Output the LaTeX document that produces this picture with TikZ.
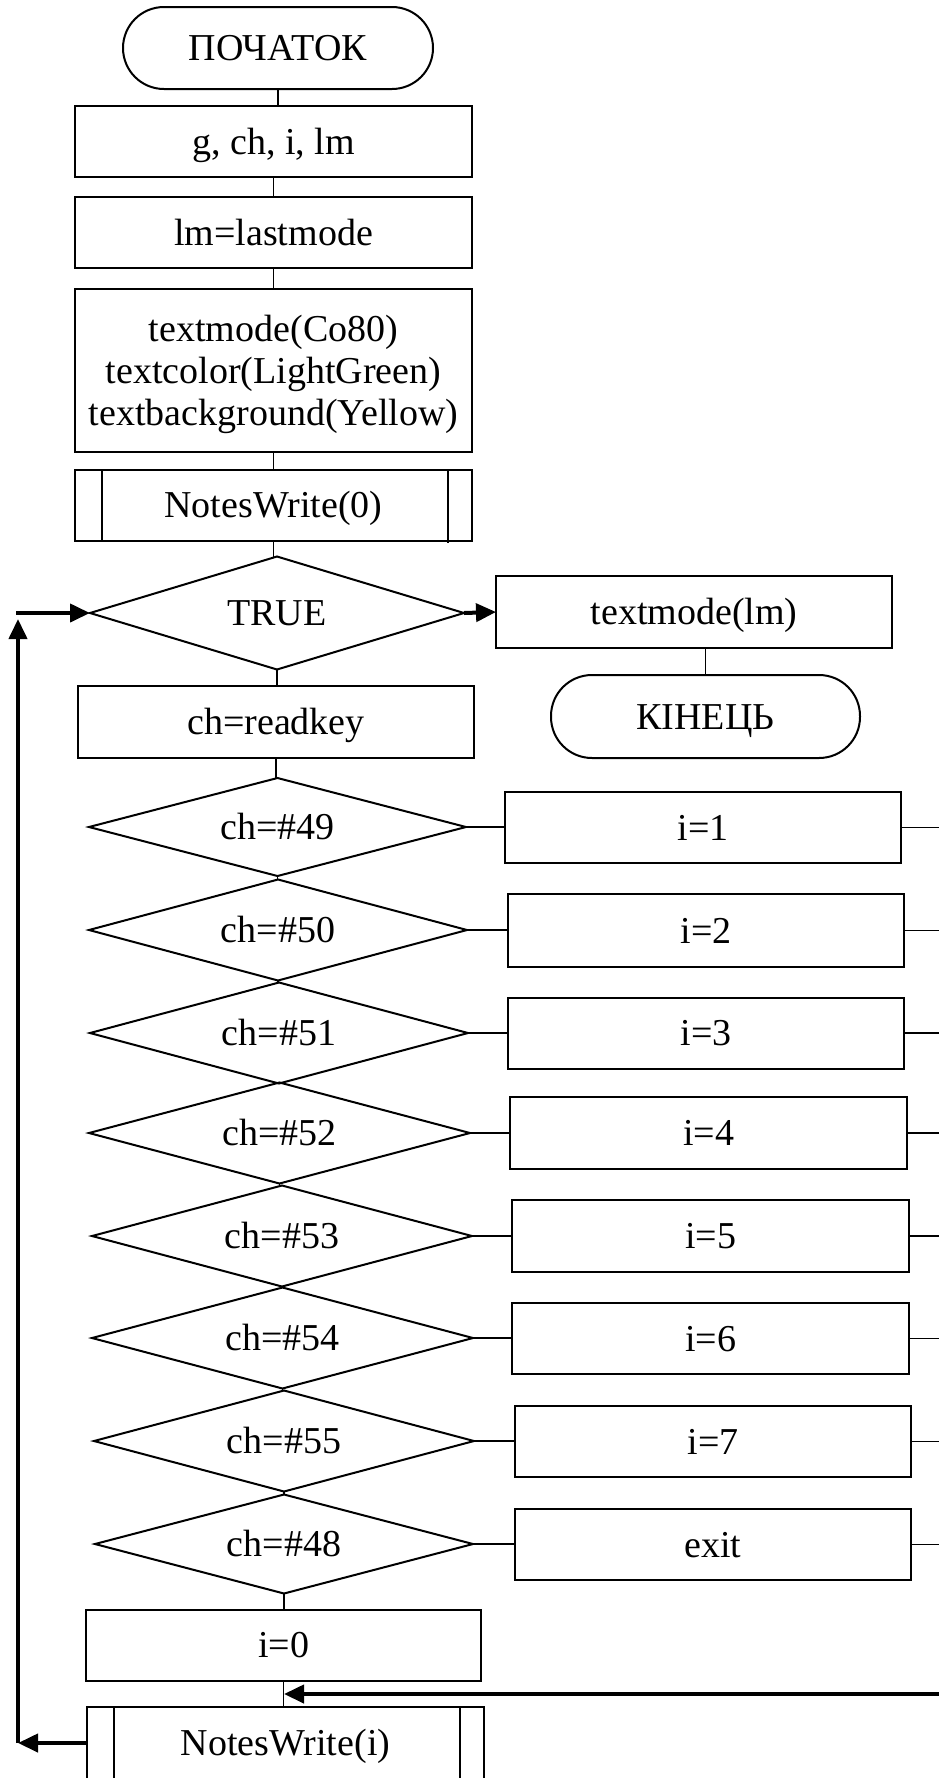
\documentclass[tikz,border=0pt]{standalone}
\usepackage{fontspec}
\setmainfont{Liberation Serif}
\usetikzlibrary{shapes.geometric,arrows.meta}

\begin{document}
\begin{tikzpicture}[x=1pt,y=-1pt,
  every node/.style={font=\fontsize{38pt}{36pt}\selectfont, inner sep=0pt, outer sep=0pt},
  oneline/.style={text height=27pt, text depth=2pt},
  box/.style={draw, rectangle, line width=2pt, minimum width=#1, minimum height=72pt, oneline},
  box/.default=396pt,
  term/.style={draw, rectangle, line width=2pt, rounded corners=41pt, minimum width=310pt, minimum height=82pt, oneline},
  dec/.style={draw, diamond, shape aspect=3.8, line width=2pt, minimum width=#1, minimum height=101pt, oneline},
  dec/.default=380pt,
  conn/.style={line width=1.8pt},
  flowline/.style={line width=4pt, -{Triangle[length=20pt,width=18pt]}},
]
\useasboundingbox (0,0) rectangle (939,1778);
\clip (0,0) rectangle (939,1778);
\fill[white] (0,0) rectangle (939,1778);

% main column
\node[term] (start) at (278,48) {ПОЧАТОК};
\node[box=397pt, minimum height=71pt] (decl) at (273.5,141.5) {g, ch, i, lm};
\node[box=397pt, minimum height=71pt] (savemode) at (273.5,232.5) {lm=lastmode};
\node[draw, rectangle, line width=2pt, minimum width=397pt, minimum height=163pt, align=center,
      font=\fontsize{38pt}{42pt}\selectfont] (init) at (273.5,370.5)
  {\rule{0pt}{33.5pt}textmode(Co80)\\textcolor(LightGreen)\\textbackground(Yellow)};
\node[box=397pt, minimum height=71pt] (nwzero) at (273.5,505) {NotesWrite(0)};
\draw[line width=2pt] ([xshift=27pt]nwzero.north west) -- ([xshift=27pt]nwzero.south west)
                      ([xshift=-24pt]nwzero.north east) -- ([xshift=-24pt,yshift=-2pt]nwzero.south east);

\node[dec=374pt, minimum height=113pt] (loop) at (277,613) {TRUE};
\node[box=396pt] (restore) at (694,612) {textmode(lm)};
\node[term, minimum width=309pt, minimum height=83pt] (finish) at (705.5,716.5) {КІНЕЦЬ};

\node[box=396pt] (readkey) at (276,722) {ch=readkey};

% key tests and assignments
\node[dec=377pt, minimum height=98pt] (d49) at (277.5,827) {ch=\#49};
\node[box=396pt, minimum height=71pt] (b1) at (703,827.5) {i=1};
\node[dec=378pt] (d50) at (278,930) {ch=\#50};
\node[box=396pt, minimum height=73pt] (b2) at (706,930.5) {i=2};
\node[dec=378pt] (d51) at (279,1033) {ch=\#51};
\node[box=396pt, minimum height=71pt] (b3) at (706,1033) {i=3};
\node[dec=381pt] (d52) at (279.5,1133) {ch=\#52};
\node[box=397pt] (b4) at (708.5,1133) {i=4};
\node[dec=380pt] (d53) at (282,1236) {ch=\#53};
\node[box=397pt] (b5) at (710.5,1236) {i=5};
\node[dec=381pt] (d54) at (282.5,1338) {ch=\#54};
\node[box=397pt, minimum height=71pt] (b6) at (710.5,1338.5) {i=6};
\node[dec=380pt] (d55) at (284,1441) {ch=\#55};
\node[box=396pt, minimum height=71pt] (b7) at (713,1441.5) {i=7};
\node[dec=378pt, minimum height=99pt] (d48) at (284,1544) {ch=\#48};
\node[box=396pt, minimum height=71pt] (b8) at (713,1544.5) {exit};

\node[box=395pt, minimum height=71pt] (izero) at (283.5,1645) {i=0};
\node[box=397pt] (nwi) at (285.5,1743) {NotesWrite(i)};
\draw[line width=2pt] ([xshift=27pt]nwi.north west) -- ([xshift=27pt]nwi.south west)
                      ([xshift=-24pt]nwi.north east) -- ([xshift=-24pt]nwi.south east);

% helper coordinates for the outer lines
\coordinate (Rt) at (950,0);
\coordinate (Lt) at (18,0);
\coordinate (join) at (284,1694);

% vertical connectors
\draw[conn] (start.south) -- (start.south |- decl.north);
\draw[conn] (decl.south) -- (decl.south |- savemode.north);
\draw[conn] (savemode.south) -- (savemode.south |- init.north);
\draw[conn] (init.south) -- (init.south |- nwzero.north);
\draw[conn] (nwzero.south) -- (nwzero.south |- loop.north);
\draw[conn] (loop.south) -- (loop.south |- readkey.north);
\draw[conn] (readkey.south) -- (readkey.south |- d49.north);
\draw[conn] (d49.south) -- (d49.south |- d50.north);
\draw[conn] (d50.south) -- (d50.south |- d51.north);
\draw[conn] (d51.south) -- (d51.south |- d52.north);
\draw[conn] (d52.south) -- (d52.south |- d53.north);
\draw[conn] (d53.south) -- (d53.south |- d54.north);
\draw[conn] (d54.south) -- (d54.south |- d55.north);
\draw[conn] (d55.south) -- (d55.south |- d48.north);
\draw[conn] (d48.south) -- (d48.south |- izero.north);
\draw[conn] (izero.south) -- (izero.south |- nwi.north);
\draw[conn] (finish.north) -- (finish.north |- restore.south);

% branches to the assignments and on to the right
\foreach \d/\b in {d49/b1,d50/b2,d51/b3,d52/b4,d53/b5,d54/b6,d55/b7,d48/b8}{
  \draw[conn] (\d.east) -- (\d.east -| \b.west);
  \draw[conn] (\b.east) -- (\b.east -| Rt);
}

% loop exit
\draw[flowline] (loop.east) -- (restore.west);

% return line from the right into NotesWrite(i)
\draw[flowline] (join -| Rt) -- (join);

% loop back to TRUE
\draw[flowline] (nwi.west) -- (nwi.west -| Lt);
\draw[flowline, shorten >=6pt] (nwi.west -| Lt) -- (loop.west -| Lt);
\draw[flowline] ([xshift=-2pt]loop.west -| Lt) -- (loop.west);
\end{tikzpicture}
\end{document}
